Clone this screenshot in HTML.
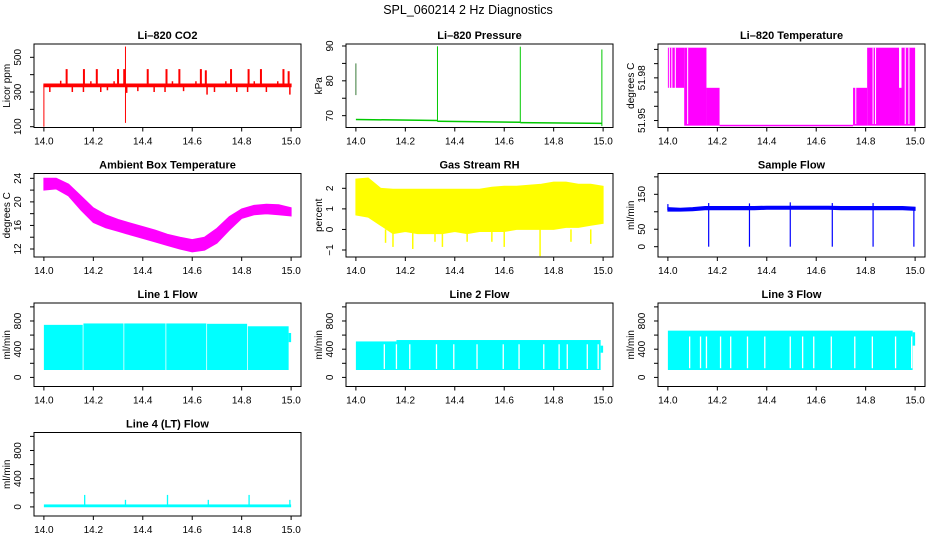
<!DOCTYPE html>
<html><head><meta charset="utf-8"><title>SPL_060214 2 Hz Diagnostics</title>
<style>
html,body{margin:0;padding:0;background:#fff;}
svg{display:block;font-family:"Liberation Sans",Arial,sans-serif;}
</style></head>
<body>
<svg id="chart" width="936" height="540" viewBox="0 0 936 540" xmlns="http://www.w3.org/2000/svg">
<rect x="0" y="0" width="936" height="540" fill="#fff"/>
<text x="468" y="14" text-anchor="middle" font-size="12.5">SPL_060214  2 Hz Diagnostics</text>
</svg>
<script>
// ---------- data ----------
const xTicks=[14.0,14.2,14.4,14.6,14.8,15.0];
const xTickLabels=["14.0","14.2","14.4","14.6","14.8","15.0"];
const envX=[14.0,14.05,14.1,14.15,14.2,14.25,14.3,14.35,14.4,14.45,14.5,14.55,14.6,14.65,14.7,14.75,14.8,14.85,14.9,14.95,15.0];

// CO2
const co2Lo=[330,330,330,330,330,330,330,330,330,330,330,330,330,330,330,330,330,330,330,330,330];
const co2Hi=[346,346,346,346,346,346,346,346,346,346,346,346,346,346,346,346,346,346,346,346,346];
const co2SpikeX=[14.092,14.162,14.214,14.30,14.325,14.42,14.496,14.548,14.635,14.655,14.757,14.828,14.878,14.969,14.99];
const co2SpikeVal=[432,432,432,432,432,432,432,432,432,425,432,432,432,432,420];
const co2DipX=[14.024,14.115,14.16,14.23,14.257,14.335,14.38,14.446,14.49,14.565,14.66,14.69,14.78,14.824,14.9,14.995];
const co2DipVal=[300,300,300,300,310,295,305,300,300,305,285,300,300,300,300,285];
const co2BumpX=[14.068,14.19,14.284,14.52,14.615,14.736,14.851,14.946];
const co2BumpVal=[365,362,362,362,362,362,362,362];
const co2BigX=[14.0,14.33];
const co2BigLo=[100,122];
const co2BigHi=[342,562];

// Pressure
const presSegX0=[14.0,14.33,14.665];
const presSegX1=[14.33,14.665,14.995];
const presSegV0=[68.9,68.4,68.0];
const presSegV1=[68.6,68.1,67.8];
const presVX=[14.0,14.33,14.665,14.995];
const presVLo=[75.9,68.3,68.0,67.0];
const presVHi=[85.0,89.9,89.8,89.0];

// Li-820 temperature (levels)
const tSegX0=[14.0,14.066,14.156,14.209,14.749,14.806,14.935,14.945];
const tSegX1=[14.066,14.156,14.209,14.749,14.806,14.935,14.945,15.0];
const tSegLo=[51.973,51.9464,51.9464,51.9464,51.9464,51.9464,51.9464,51.9464];
const tSegHi=[52.0012,52.0012,51.973,51.9470,51.973,52.0012,51.973,52.0012];
const tGapX=[14.006,14.016,14.03,14.08,14.76,14.83,14.84,14.96,14.975];

// Ambient box temperature
const ambHi=[24.0,24.0,23.0,21.0,19.0,17.8,17.0,16.4,15.8,15.2,14.5,14.0,13.6,14.0,15.5,17.5,18.8,19.4,19.6,19.5,19.0];
const ambLo=[22.0,22.2,21.0,18.6,16.5,15.6,15.0,14.4,13.8,13.2,12.6,12.0,11.5,11.8,13.0,15.2,17.2,17.8,18.0,17.8,17.6];

// Gas stream RH
const rhHi=[2.45,2.5,2.0,1.95,1.95,1.95,1.95,1.95,1.95,1.95,1.95,2.05,2.1,2.1,2.15,2.2,2.3,2.3,2.2,2.2,2.1];
const rhLo=[0.7,0.6,0.2,-0.2,-0.1,-0.2,-0.2,-0.2,-0.1,-0.2,-0.1,-0.1,-0.1,0.0,0.0,0.0,0.0,0.1,0.1,0.2,0.3];
const rhSpikeX=[14.12,14.15,14.23,14.32,14.35,14.45,14.55,14.6,14.745,14.87,14.95];
const rhSpikeVal=[-0.65,-0.85,-0.95,-0.6,-0.85,-0.6,-0.6,-0.85,-1.3,-0.6,-0.7];

// Sample flow
const sfHi=[112,110,112,115,115,115,115,115,116,116,116,116,116,116,115,115,115,115,115,115,113];
const sfLo=[102,102,103,106,106,106,106,106,107,107,107,107,107,107,106,106,106,106,106,106,104];
const sfSpikeX=[14.0,14.165,14.33,14.495,14.665,14.83,14.995];
const sfSpikeLo=[105,0,0,0,0,0,0];
const sfSpikeHi=[122,125,124,127,125,125,114];

// Line flows
const l1X0=[14.0,14.16,14.325,14.495,14.66,14.825,14.99];
const l1X1=[14.157,14.322,14.492,14.657,14.822,14.99,15.0];
const l1Lo=[105,105,105,105,105,105,500];
const l1Hi=[745,765,765,765,760,725,630];
const l2X0=[14.0,14.164,14.99];
const l2X1=[14.164,14.99,15.0];
const l2Lo=[105,105,350];
const l2Hi=[510,530,450];
const l2Gap=[14.115,14.164,14.218,14.326,14.396,14.49,14.596,14.66,14.76,14.822,14.855,14.936,14.98];
const l3X0=[14.0,14.99];
const l3X1=[14.99,15.0];
const l3Lo=[105,450];
const l3Hi=[663,640];
const l3Gap=[14.088,14.132,14.156,14.213,14.254,14.322,14.392,14.495,14.545,14.59,14.661,14.756,14.827,14.921,14.986];
const l4Base=[-5,35];
const l4SpikeX=[14.165,14.33,14.5,14.665,14.83,14.995];
const l4SpikeVal=[170,100,170,100,170,100];

// ---------- layout ----------
const NS="http://www.w3.org/2000/svg";
const svg=document.getElementById('chart');
const colL=[34,346,658], rowT=[44,173.5,303,432.5], PW=267, PH=83.5;
function mk(tag,attrs,parent){const e=document.createElementNS(NS,tag);for(const k in attrs)e.setAttribute(k,attrs[k]);(parent||svg).appendChild(e);return e;}
function panel(col,row,vTop,vBot,title,ytitle,yTicks,yLabels,name){
  const p={L:colL[col],T:rowT[row],vTop:vTop,vBot:vBot};
  p.sx=x=>p.L+(x-13.96)/1.08*PW;
  p.sy=v=>p.T+(vTop-v)/(vTop-vBot)*PH;
  const g=mk('g',{});
  
  
  p.g=g;
  p.marks=mk('g',{},g);
  
  
  p.finish=function(){
    const box=mk('rect',{x:p.L,y:p.T,width:PW,height:PH,fill:'none',stroke:'#000','stroke-width':1},g);
    
    
    const t=mk('text',{x:p.L+PW/2,y:p.T-5,'text-anchor':'middle','font-size':11,'font-weight':'bold'},g);
    t.textContent=title;
    
    
    const xa=mk('g',{},g);
    
    
    const yb=p.T+PH;
    mk('line',{x1:p.sx(xTicks[0]),x2:p.sx(xTicks[xTicks.length-1]),y1:yb,y2:yb,stroke:'#000'},xa);
    xTicks.forEach((v,i)=>{
      mk('line',{x1:p.sx(v),x2:p.sx(v),y1:yb,y2:yb+4,stroke:'#000'},xa);
      const tl=mk('text',{x:p.sx(v),y:yb+17,'text-anchor':'middle','font-size':10},xa);
      tl.textContent=xTickLabels[i];
      
      
    });
    const ya=mk('g',{},g);
    
    
    mk('line',{x1:p.L,x2:p.L,y1:p.sy(yTicks[0]),y2:p.sy(yTicks[yTicks.length-1]),stroke:'#000'},ya);
    yTicks.forEach((v,i)=>{
      const y=p.sy(v);
      mk('line',{x1:p.L-4,x2:p.L,y1:y,y2:y,stroke:'#000'},ya);
      if(yLabels[i]){
        const tl=mk('text',{x:0,y:0,'text-anchor':'middle','font-size':10,transform:'translate('+(p.L-13)+','+y+') rotate(-90)'},ya);
        tl.textContent=yLabels[i];
        
        
      }
    });
    const yt=mk('text',{x:0,y:0,'text-anchor':'middle','font-size':10,transform:'translate('+(p.L-24)+','+(p.T+PH/2)+') rotate(-90)'},g);
    yt.textContent=ytitle;
    
    
  };
  return p;
}
function vline(p,x,v0,v1,color,w){
  const l=mk('line',{x1:p.sx(x),x2:p.sx(x),y1:p.sy(v0),y2:p.sy(v1),stroke:color,'stroke-width':w||1},p.marks);
  
  
  return l;
}
function band(p,xs,lo,hi,color){
  let d='';
  xs.forEach((x,i)=>{d+=(i?'L':'M')+p.sx(x).toFixed(1)+','+p.sy(hi[i]).toFixed(1);});
  for(let i=xs.length-1;i>=0;i--)d+='L'+p.sx(xs[i]).toFixed(1)+','+p.sy(lo[i]).toFixed(1);
  const e=mk('path',{d:d+'Z',fill:color,stroke:color,'stroke-width':1},p.marks);
  
  
}
function seg(p,x0,x1,lo,hi,color){
  const y0=p.sy(hi),y1=p.sy(lo);
  const r=mk('rect',{x:p.sx(x0),y:y0,width:Math.max(1,p.sx(x1)-p.sx(x0)),height:Math.max(1.5,y1-y0),fill:color},p.marks);
  
  
}

let p=panel(0,0,576.7,95.4,'Li\u2013820 CO2','Licor ppm',[100,200,300,400,500],['100','','300','','500'],'co2');
band(p,envX,co2Lo,co2Hi,'#ff0000');
co2SpikeX.forEach((x,i)=>{vline(p,x,340,co2SpikeVal[i],'#ff0000',2);});
co2DipX.forEach((x,i)=>{vline(p,x,335,co2DipVal[i],'#ff0000',1.5);});
co2BumpX.forEach((x,i)=>{vline(p,x,340,co2BumpVal[i],'#ff0000',1.5);});
co2BigX.forEach((x,i)=>{vline(p,x,co2BigLo[i],co2BigHi[i],'#ff0000',1);});
p.finish();

p=panel(1,0,90.57,66.6,'Li\u2013820 Pressure','kPa',[70,75,80,85,90],['70','','80','','90'],'pressure');
presSegX0.forEach((x,i)=>{
  const l=mk('line',{x1:p.sx(x),x2:p.sx(presSegX1[i]),y1:p.sy(presSegV0[i]),y2:p.sy(presSegV1[i]),stroke:'#00c800','stroke-width':1.5},p.marks);
  
  
});
presVX.forEach((x,i)=>{vline(p,x,presVLo[i],presVHi[i],i===0?'#3a7a3a':'#00c800',1);});
p.finish();

p=panel(2,0,52.0038,51.9451,'Li\u2013820 Temperature','degrees C',[51.95,51.96,51.97,51.98,51.99,52.0],['51.95','','','51.98','',''],'licor-temp');
tSegX0.forEach((x,i)=>{seg(p,x,tSegX1[i],tSegLo[i],tSegHi[i],'#ff00ff');});
tGapX.forEach(x=>{vline(p,x,51.9475,52.0012,'#ffffff',1);});
p.finish();

p=panel(0,1,24.82,10.64,'Ambient Box Temperature','degrees C',[12,14,16,18,20,22,24],['12','','16','','20','','24'],'ambient-temp');
band(p,envX,ambLo,ambHi,'#ff00ff');
p.finish();

p=panel(1,1,2.72,-1.34,'Gas Stream RH','percent',[-1,0,1,2],['\u22121','0','1','2'],'rh');
band(p,envX,rhLo,rhHi,'#ffff00');
rhSpikeX.forEach((x,i)=>{vline(p,x,0,rhSpikeVal[i],'#ffff00',1.5);});
p.finish();

p=panel(2,1,209.6,-29.5,'Sample Flow','ml/min',[0,50,100,150,200],['0','50','','150',''],'sample-flow');
band(p,envX,sfLo,sfHi,'#0000ff');
sfSpikeX.forEach((x,i)=>{vline(p,x,sfSpikeLo[i],sfSpikeHi[i],'#0000ff',1.2);});
p.finish();

const flowTicks=[0,200,400,600,800,1000], flowLabels=['0','','400','','800',''];
p=panel(0,2,1055,-129,'Line 1 Flow','ml/min',flowTicks,flowLabels,'line1-flow');
l1X0.forEach((x,i)=>{seg(p,x,l1X1[i],l1Lo[i],l1Hi[i],'#00ffff');});
p.finish();
p=panel(1,2,1055,-129,'Line 2 Flow','ml/min',flowTicks,flowLabels,'line2-flow');
l2X0.forEach((x,i)=>{seg(p,x,l2X1[i],l2Lo[i],l2Hi[i],'#00ffff');});
l2Gap.forEach(x=>{vline(p,x,120,470,'#ffffff',1.3);});
p.finish();
p=panel(2,2,1055,-129,'Line 3 Flow','ml/min',flowTicks,flowLabels,'line3-flow');
l3X0.forEach((x,i)=>{seg(p,x,l3X1[i],l3Lo[i],l3Hi[i],'#00ffff');});
l3Gap.forEach(x=>{vline(p,x,130,580,'#ffffff',1.3);});
p.finish();
p=panel(0,3,1055,-129,'Line 4 (LT) Flow','ml/min',flowTicks,flowLabels,'line4-flow');
seg(p,14.0,15.0,l4Base[0],l4Base[1],'#00ffff');
l4SpikeX.forEach((x,i)=>{vline(p,x,0,l4SpikeVal[i],'#00ffff',1.3);});
p.finish();
</script>
</body></html>
